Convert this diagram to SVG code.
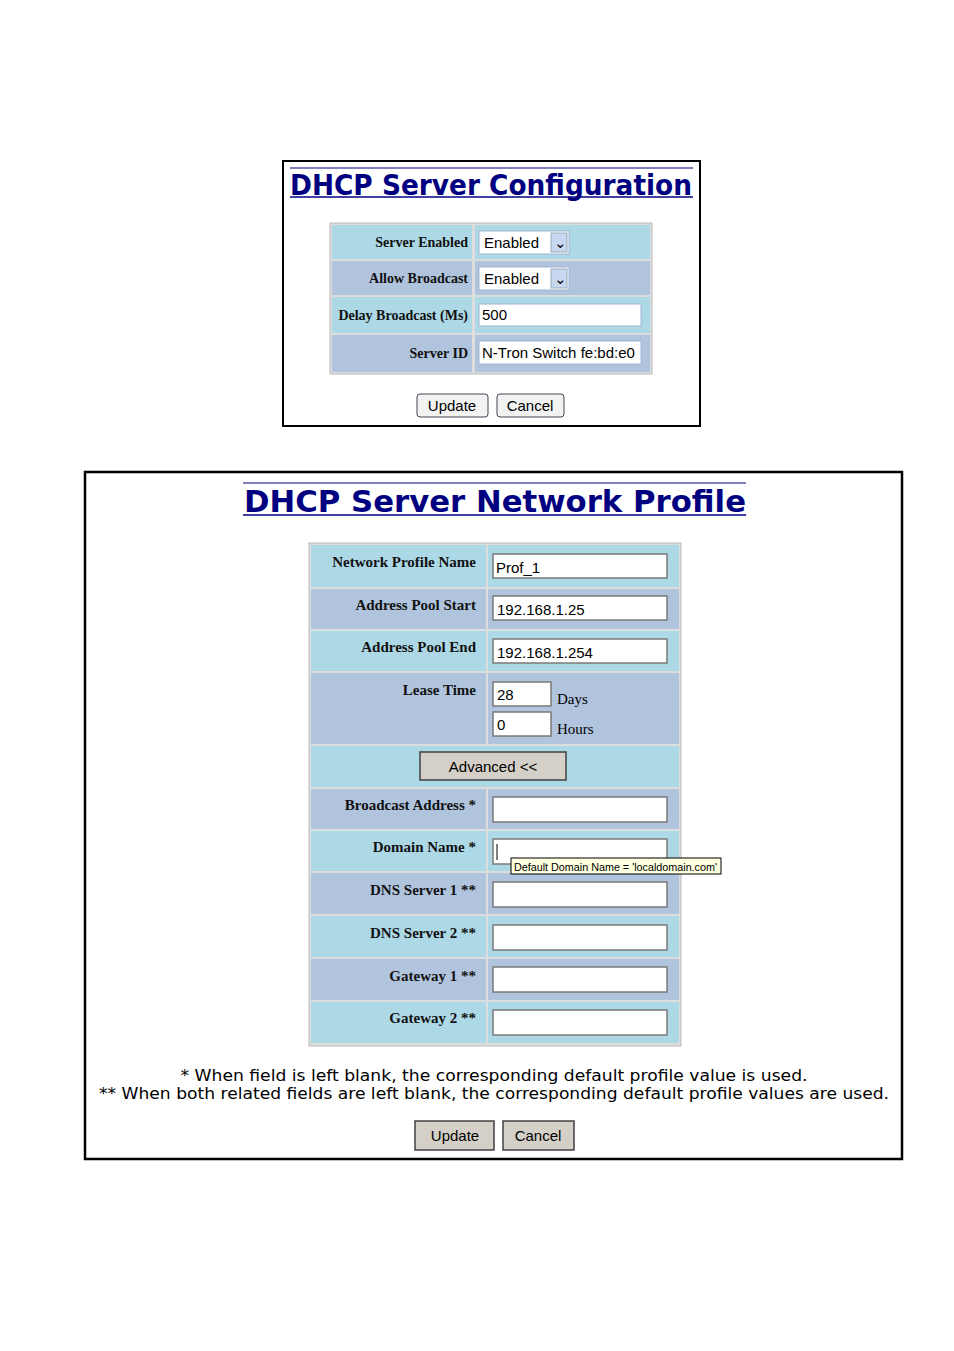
<svg xmlns="http://www.w3.org/2000/svg" width="954" height="1351" viewBox="0 0 954 1351">
<style>
.t{font-family:"DejaVu Sans",Verdana,sans-serif;font-weight:bold;fill:#000080}
.l{font-family:"Liberation Serif","Times New Roman",serif;font-weight:bold;font-size:14px;fill:#111;text-anchor:end}
.v{font-family:"Liberation Sans",Arial,sans-serif;font-size:15px;fill:#000}
.a{fill:#ADD8E6}.b{fill:#B0C4DE}
.in{fill:#fff;stroke:#7a7a7a;stroke-width:1.5}
.btn{fill:#D4D0C8;stroke:#404040;stroke-width:1.5}
.f{font-family:"DejaVu Sans",Verdana,sans-serif;font-size:16px;fill:#000;text-anchor:middle}
</style>
<rect width="954" height="1351" fill="#fff"/>
<g id="panel1">
<rect x="283" y="161" width="417" height="265" fill="#fff" stroke="#000" stroke-width="2"/>
<line x1="290" y1="168" x2="693" y2="168" stroke="#000080"/>
<text class="t" x="491" y="195" font-size="28" text-anchor="middle" textLength="402" lengthAdjust="spacingAndGlyphs">DHCP Server Configuration</text>
<line x1="290" y1="197" x2="693" y2="197" stroke="#000080" stroke-width="1.5"/>
<rect x="330" y="223" width="322" height="151" fill="#ddd" stroke="#bbb"/>
<rect class="a" x="332" y="225" width="140" height="34"/><rect class="a" x="475" y="225" width="175" height="34"/>
<rect class="b" x="332" y="261" width="140" height="34"/><rect class="b" x="475" y="261" width="175" height="34"/>
<rect class="a" x="332" y="297" width="140" height="36"/><rect class="a" x="475" y="297" width="175" height="36"/>
<rect class="b" x="332" y="335" width="140" height="37"/><rect class="b" x="475" y="335" width="175" height="37"/>
<text class="l" x="468" y="247">Server Enabled</text>
<text class="l" x="468" y="283">Allow Broadcast</text>
<text class="l" x="468" y="320">Delay Broadcast (Ms)</text>
<text class="l" x="468" y="358">Server ID</text>
<rect x="479" y="231" width="90" height="23" fill="#fff" stroke="#a0b4d0"/>
<rect x="551" y="233" width="16" height="19" fill="#c8d8f0" stroke="#9ab"/>
<text class="v" x="484" y="248">Enabled</text><text class="v" x="554" y="248" font-size="11" fill="#335">⌄</text>
<rect x="479" y="267" width="90" height="23" fill="#fff" stroke="#a0b4d0"/>
<rect x="551" y="269" width="16" height="19" fill="#c8d8f0" stroke="#9ab"/>
<text class="v" x="484" y="284">Enabled</text><text class="v" x="554" y="284" font-size="11" fill="#335">⌄</text>
<rect x="479" y="304" width="162" height="22" fill="#fff" stroke="#a0b4d0"/>
<text class="v" x="482" y="320" font-size="14">500</text>
<rect x="479" y="341" width="162" height="23" fill="#fff" stroke="#a0b4d0"/>
<text class="v" x="482" y="358" font-size="14">N-Tron Switch fe:bd:e0</text>
<rect x="417" y="394" width="71" height="23" rx="3" fill="#f2f2f2" stroke="#445"/>
<text class="v" x="452" y="411" text-anchor="middle">Update</text>
<rect x="497" y="394" width="67" height="23" rx="3" fill="#f2f2f2" stroke="#445"/>
<text class="v" x="530" y="411" text-anchor="middle">Cancel</text>
</g>
<g id="panel2">
<rect x="85" y="472" width="817" height="687" fill="#fff" stroke="#000" stroke-width="2.5"/>
<line x1="243" y1="483" x2="746" y2="483" stroke="#000080"/>
<text class="t" x="495" y="512" font-size="31" text-anchor="middle" textLength="502" lengthAdjust="spacingAndGlyphs">DHCP Server Network Profile</text>
<line x1="243" y1="515" x2="746" y2="515" stroke="#000080" stroke-width="1.5"/>
<rect x="309" y="543" width="372" height="503" fill="#ddd" stroke="#bbb"/>
<rect class="a" x="311" y="545" width="175" height="42"/><rect class="a" x="488" y="545" width="191" height="42"/>
<rect class="b" x="311" y="589" width="175" height="40"/><rect class="b" x="488" y="589" width="191" height="40"/>
<rect class="a" x="311" y="631" width="175" height="40"/><rect class="a" x="488" y="631" width="191" height="40"/>
<rect class="b" x="311" y="673" width="175" height="71"/><rect class="b" x="488" y="673" width="191" height="71"/>
<rect class="a" x="311" y="746" width="368" height="41"/>
<rect class="b" x="311" y="789" width="175" height="40"/><rect class="b" x="488" y="789" width="191" height="40"/>
<rect class="a" x="311" y="831" width="175" height="40"/><rect class="a" x="488" y="831" width="191" height="40"/>
<rect class="b" x="311" y="873" width="175" height="41"/><rect class="b" x="488" y="873" width="191" height="41"/>
<rect class="a" x="311" y="916" width="175" height="41"/><rect class="a" x="488" y="916" width="191" height="41"/>
<rect class="b" x="311" y="959" width="175" height="41"/><rect class="b" x="488" y="959" width="191" height="41"/>
<rect class="a" x="311" y="1002" width="175" height="41"/><rect class="a" x="488" y="1002" width="191" height="41"/>
<g font-size="15">
<text class="l" x="476" y="567" style="font-size:15px">Network Profile Name</text>
<text class="l" x="476" y="610" style="font-size:15px">Address Pool Start</text>
<text class="l" x="476" y="652" style="font-size:15px">Address Pool End</text>
<text class="l" x="476" y="695" style="font-size:15px">Lease Time</text>
<text class="l" x="476" y="810" style="font-size:15px">Broadcast Address *</text>
<text class="l" x="476" y="852" style="font-size:15px">Domain Name *</text>
<text class="l" x="476" y="895" style="font-size:15px">DNS Server 1 **</text>
<text class="l" x="476" y="938" style="font-size:15px">DNS Server 2 **</text>
<text class="l" x="476" y="981" style="font-size:15px">Gateway 1 **</text>
<text class="l" x="476" y="1023" style="font-size:15px">Gateway 2 **</text>
</g>
<rect class="in" x="493" y="554" width="174" height="24"/><text class="v" x="496" y="573" font-size="16">Prof_1</text>
<rect class="in" x="493" y="596" width="174" height="24"/><text class="v" x="497" y="615" font-size="16">192.168.1.25</text>
<rect class="in" x="493" y="639" width="174" height="24"/><text class="v" x="497" y="658" font-size="16">192.168.1.254</text>
<rect class="in" x="493" y="682" width="58" height="24"/><text class="v" x="497" y="700" font-size="16">28</text>
<rect class="in" x="493" y="712" width="58" height="24"/><text class="v" x="497" y="730" font-size="16">0</text>
<text x="557" y="704" font-family="Liberation Serif,serif" font-size="15">Days</text>
<text x="557" y="734" font-family="Liberation Serif,serif" font-size="15">Hours</text>
<rect class="btn" x="420" y="752" width="146" height="28"/>
<text class="v" x="493" y="772" text-anchor="middle" font-size="16">Advanced  &lt;&lt;</text>
<rect class="in" x="493" y="797" width="174" height="25"/>
<rect class="in" x="493" y="839" width="174" height="25"/>
<line x1="497" y1="844" x2="497" y2="860" stroke="#000"/>
<rect class="in" x="493" y="882" width="174" height="25"/>
<rect class="in" x="493" y="925" width="174" height="25"/>
<rect class="in" x="493" y="967" width="174" height="25"/>
<rect class="in" x="493" y="1010" width="174" height="25"/>
<rect x="511" y="858" width="210" height="16" fill="#FFFFE1" stroke="#000"/>
<text x="514" y="871" font-family="Liberation Sans,sans-serif" font-size="11.5" textLength="203" lengthAdjust="spacingAndGlyphs">Default Domain Name = 'localdomain.com'</text>
<text class="f" x="494" y="1081" textLength="627" lengthAdjust="spacingAndGlyphs">* When field is left blank, the corresponding default profile value is used.</text>
<text class="f" x="494" y="1099" textLength="790" lengthAdjust="spacingAndGlyphs">** When both related fields are left blank, the corresponding default profile values are used.</text>
<rect class="btn" x="415" y="1121" width="79" height="29" stroke-width="2"/>
<text class="v" x="455" y="1141" text-anchor="middle" font-size="16">Update</text>
<rect class="btn" x="503" y="1121" width="71" height="29" stroke="#888"/>
<text class="v" x="538" y="1141" text-anchor="middle" font-size="16">Cancel</text>
</g>
</svg>
